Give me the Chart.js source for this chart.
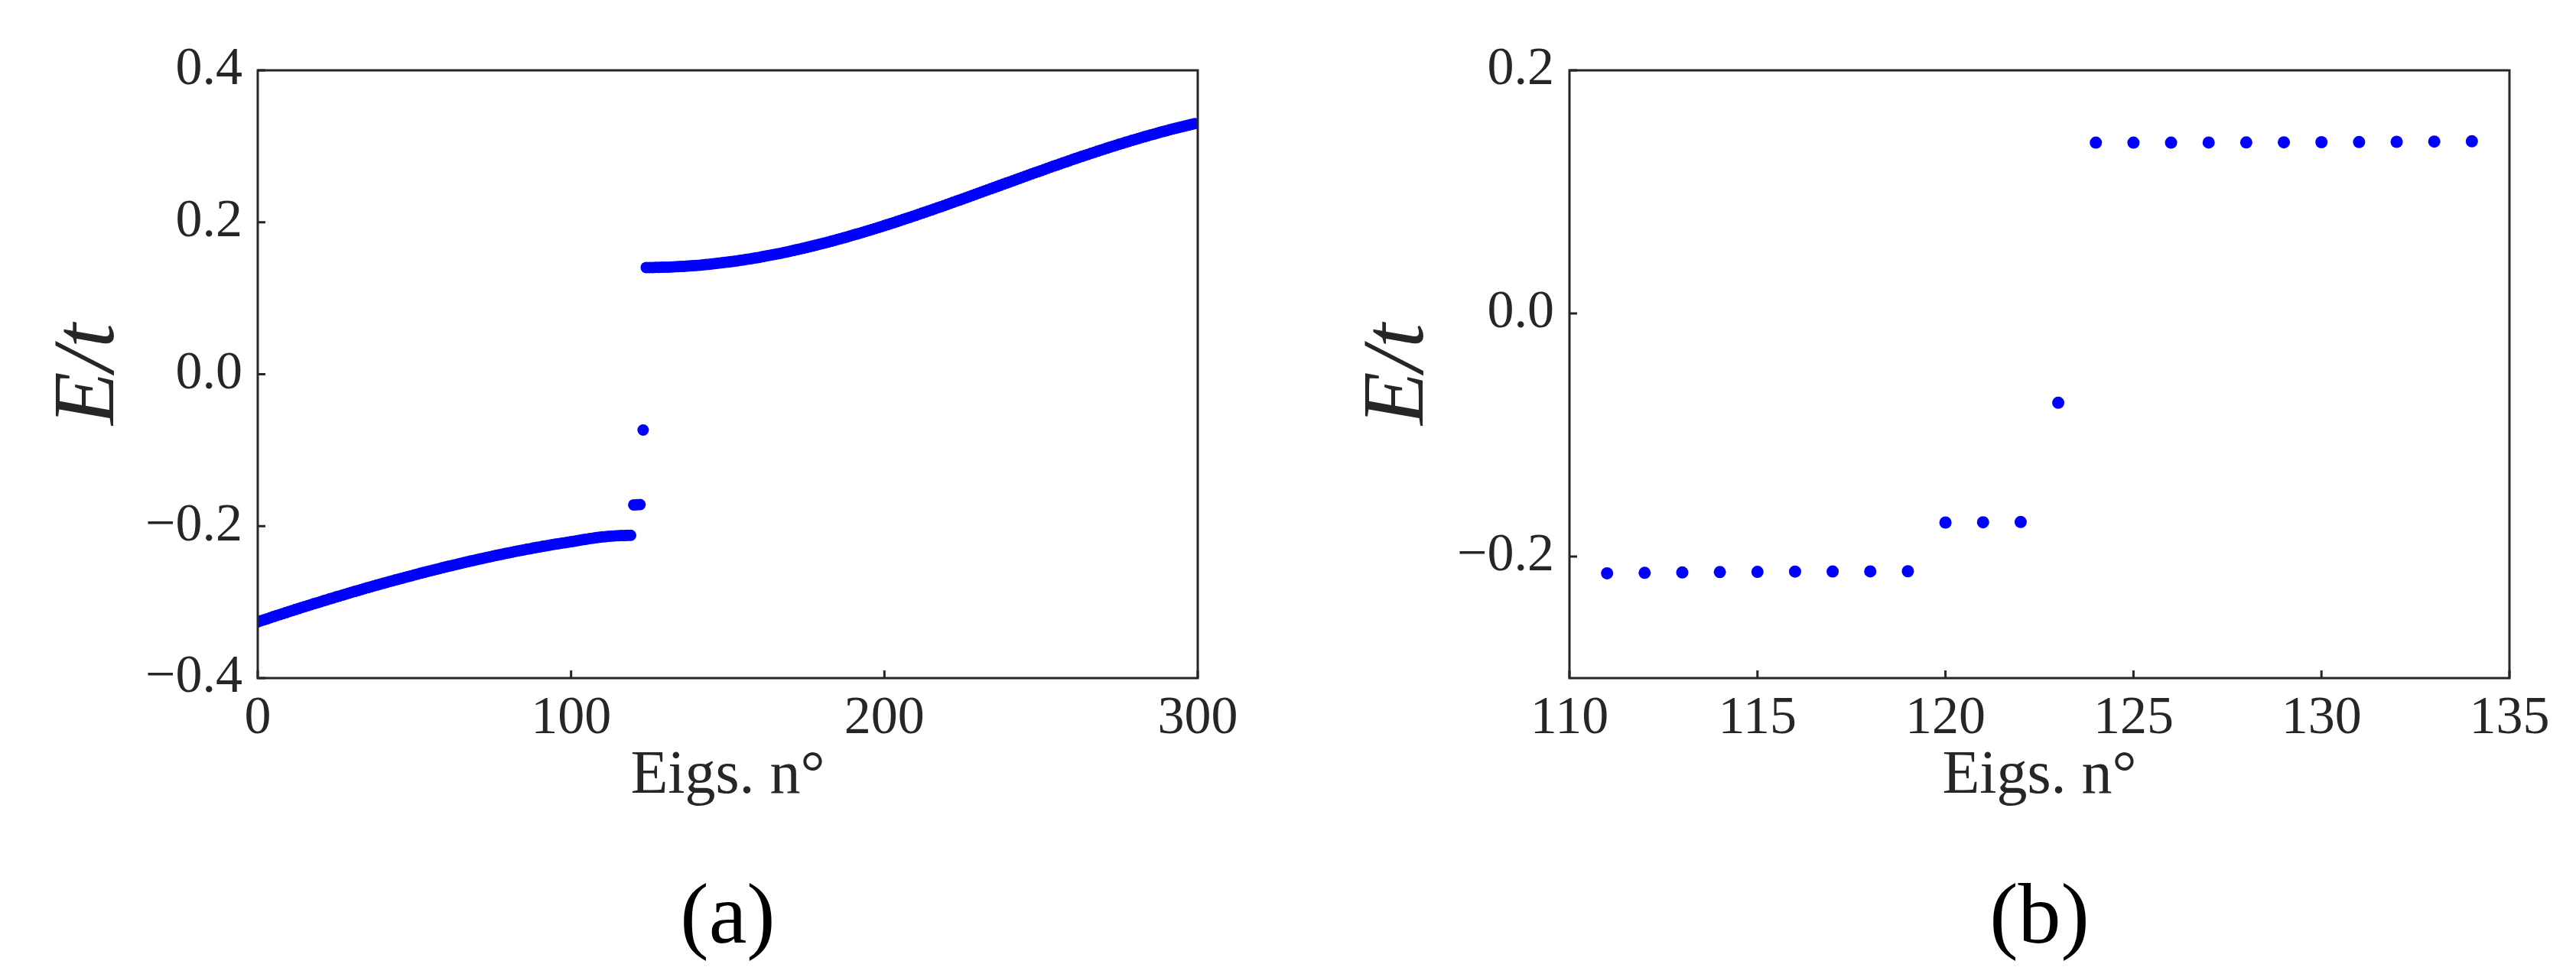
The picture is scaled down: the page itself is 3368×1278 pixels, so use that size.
<!DOCTYPE html>
<html>
<head>
<meta charset="utf-8">
<script src="https://cdn.jsdelivr.net/npm/chart.js@4.4.1/dist/chart.umd.min.js"></script>
<style>
  html, body { margin: 0; padding: 0; background: #fff; }
  #wrap { position: relative; width: 3368px; height: 1278px; }
  #chartA { position: absolute; left: 0; top: 0; }
  #chartB { position: absolute; left: 1700px; top: 0; }
  .warm { position: absolute; left: -9999px; top: 0; font-family: "Liberation Serif"; }
</style>
</head>
<body>
<div class="warm">0.2 <i>E/t</i> Eigs. n°</div>
<div id="wrap">
  <canvas id="chartA" width="1700" height="1278"></canvas>
  <canvas id="chartB" width="1668" height="1278"></canvas>
</div>
<script>
// eigenvalues E/t (index n = 0 ... 299)
const lowerBand = [
  -0.3260,-0.3246,-0.3233,-0.3219,-0.3205,-0.3191,-0.3178,-0.3165,-0.3151,-0.3138,
  -0.3125,-0.3111,-0.3098,-0.3085,-0.3072,-0.3059,-0.3046,-0.3033,-0.3020,-0.3008,
  -0.2995,-0.2982,-0.2970,-0.2957,-0.2945,-0.2932,-0.2920,-0.2908,-0.2895,-0.2883,
  -0.2871,-0.2859,-0.2847,-0.2835,-0.2823,-0.2811,-0.2800,-0.2788,-0.2776,-0.2765,
  -0.2753,-0.2742,-0.2730,-0.2719,-0.2708,-0.2697,-0.2686,-0.2674,-0.2664,-0.2653,
  -0.2642,-0.2631,-0.2620,-0.2610,-0.2599,-0.2588,-0.2578,-0.2568,-0.2558,-0.2547,
  -0.2537,-0.2527,-0.2517,-0.2507,-0.2498,-0.2488,-0.2478,-0.2469,-0.2459,-0.2450,
  -0.2440,-0.2431,-0.2422,-0.2413,-0.2404,-0.2395,-0.2386,-0.2378,-0.2369,-0.2360,
  -0.2352,-0.2344,-0.2335,-0.2327,-0.2319,-0.2311,-0.2303,-0.2296,-0.2288,-0.2280,
  -0.2273,-0.2265,-0.2258,-0.2251,-0.2244,-0.2237,-0.2231,-0.2224,-0.2218,-0.2211,
  -0.2205,-0.2198,-0.2191,-0.2184,-0.2177,-0.2170,-0.2164,-0.2158,-0.2152,-0.2147,
  -0.2142,-0.2138,-0.2134,-0.2131,-0.2128,-0.2126,-0.2124,-0.2123,-0.2122,-0.2121
];
// n = 120, 121, 122, 123
const gapStates = [-0.1720, -0.1718, -0.1716, -0.0735];
// n = 124 ... 299
const upperBand = [
  0.1405,0.1405,0.1405,0.1406,0.1407,0.1408,0.1409,0.1410,0.1412,0.1414,
  0.1416,0.1418,0.1420,0.1423,0.1426,0.1429,0.1432,0.1435,0.1439,0.1443,
  0.1447,0.1451,0.1456,0.1461,0.1466,0.1471,0.1476,0.1481,0.1487,0.1492,
  0.1499,0.1505,0.1512,0.1518,0.1525,0.1531,0.1538,0.1546,0.1554,0.1562,
  0.1570,0.1577,0.1585,0.1593,0.1602,0.1611,0.1620,0.1629,0.1639,0.1648,
  0.1657,0.1667,0.1677,0.1687,0.1697,0.1708,0.1718,0.1728,0.1739,0.1750,
  0.1762,0.1773,0.1784,0.1795,0.1807,0.1819,0.1831,0.1843,0.1855,0.1867,
  0.1879,0.1892,0.1904,0.1917,0.1930,0.1943,0.1956,0.1969,0.1982,0.1996,
  0.2009,0.2023,0.2037,0.2050,0.2064,0.2078,0.2091,0.2106,0.2120,0.2134,
  0.2148,0.2162,0.2177,0.2191,0.2205,0.2220,0.2235,0.2249,0.2264,0.2279,
  0.2293,0.2308,0.2323,0.2338,0.2353,0.2367,0.2382,0.2397,0.2412,0.2427,
  0.2442,0.2457,0.2472,0.2487,0.2502,0.2517,0.2532,0.2547,0.2562,0.2577,
  0.2592,0.2606,0.2621,0.2636,0.2651,0.2665,0.2680,0.2695,0.2710,0.2724,
  0.2739,0.2753,0.2767,0.2782,0.2796,0.2811,0.2825,0.2839,0.2853,0.2867,
  0.2881,0.2894,0.2908,0.2922,0.2935,0.2949,0.2962,0.2975,0.2989,0.3002,
  0.3015,0.3028,0.3040,0.3053,0.3065,0.3078,0.3090,0.3103,0.3115,0.3126,
  0.3138,0.3150,0.3161,0.3173,0.3185,0.3196,0.3206,0.3217,0.3227,0.3238,
  0.3249,0.3259,0.3269,0.3279,0.3289,0.3298
];

// tick labels
const xTicksA = [0, 100, 200, 300];
const yTicksA = [-0.4, -0.2, 0.0, 0.2, 0.4];
const xTicksB = [110, 115, 120, 125, 130, 135];
const yTicksB = [-0.2, 0.0, 0.2];
// zoomed window of panel (b)
const zoomFirst = 111;
const zoomLast = 134;

const serif = '"Liberation Serif", "Times New Roman", serif';
const ink = '#262626';

const eigs = lowerBand.concat(gapStates, upperBand).map((e, n) => ({ x: n, y: e }));
const zoomEigs = eigs.filter(p => p.x >= zoomFirst && p.x <= zoomLast);

function fmtTick(v) {
    if (Math.abs(v) < 1e-9) return '0.0';
    return (v < 0 ? '\u2212' : '') + Math.abs(v).toFixed(1);
}

// matplotlib-like frame with inward ticks
const frameAndTicks = {
    id: 'frameAndTicks',
    afterDraw(chart) {
        const { ctx, chartArea: a } = chart;
        const x = chart.scales.x, y = chart.scales.y;
        ctx.save();
        ctx.strokeStyle = ink;
        ctx.lineWidth = 3;
        ctx.beginPath();
        x.ticks.forEach(t => {
            const px = x.getPixelForValue(t.value);
            ctx.moveTo(px, a.bottom);
            ctx.lineTo(px, a.bottom - 10);
        });
        y.ticks.forEach(t => {
            const py = y.getPixelForValue(t.value);
            ctx.moveTo(a.left, py);
            ctx.lineTo(a.left + 10, py);
        });
        ctx.stroke();
        ctx.strokeRect(a.left, a.top, a.right - a.left, a.bottom - a.top);
        ctx.restore();
    }
};

function makePanel(id, points, cfg) {
    return new Chart(document.getElementById(id), {
        type: 'scatter',
        data: {
            datasets: [{
                data: points,
                backgroundColor: '#0000ff',
                borderWidth: 0,
                pointRadius: cfg.radius,
                pointHoverRadius: cfg.radius,
                clip: 0
            }]
        },
        options: {
            responsive: false,
            animation: false,
            events: [],
            layout: { padding: { left: 0, top: 92, right: cfg.rightPad, bottom: 18 } },
            plugins: {
                legend: { display: false },
                tooltip: { enabled: false },
                title: {
                    display: true,
                    text: cfg.label,
                    position: 'bottom',
                    fullSize: false,
                    color: '#000',
                    padding: 0,
                    font: { family: serif, size: 112, weight: 'normal', lineHeight: 1 }
                }
            },
            scales: {
                x: {
                    type: 'linear',
                    min: cfg.xMin,
                    max: cfg.xMax,
                    grid: { display: false },
                    border: { display: false },
                    afterBuildTicks: s => { s.ticks = cfg.xTicks.map(v => ({ value: v })); },
                    afterFit: s => { s.height = 261; },
                    ticks: {
                        color: ink,
                        padding: 4,
                        maxRotation: 0,
                        autoSkip: false,
                        font: { family: serif, size: 70 },
                        callback: v => String(v)
                    },
                    title: {
                        display: true,
                        text: 'Eigs. n\u00b0',
                        color: ink,
                        font: { family: serif, size: 80, lineHeight: 1 },
                        padding: { top: 0, bottom: 92 }
                    }
                },
                y: {
                    type: 'linear',
                    min: cfg.yMin,
                    max: cfg.yMax,
                    grid: { display: false },
                    border: { display: false },
                    afterBuildTicks: s => { s.ticks = cfg.yTicks.map(v => ({ value: v })); },
                    afterFit: s => { s.width = cfg.yWidth; },
                    ticks: {
                        color: ink,
                        padding: 12,
                        font: { family: serif, size: 70 },
                        callback: v => fmtTick(v)
                    },
                    title: {
                        display: true,
                        text: 'E/t',
                        color: ink,
                        font: { family: serif, size: 114, style: 'italic', lineHeight: 1 },
                        padding: { top: cfg.titleOffset, bottom: 0 }
                    }
                }
            }
        },
        plugins: [frameAndTicks]
    });
}

makePanel('chartA', eigs, {
    label: '(a)', radius: 7.5,
    xMin: 0, xMax: 300, yMin: -0.4, yMax: 0.4,
    xTicks: xTicksA, yTicks: yTicksA,
    yWidth: 337, rightPad: 134, titleOffset: 61
});

makePanel('chartB', zoomEigs, {
    label: '(b)', radius: 8,
    xMin: 110, xMax: 135, yMin: -0.3, yMax: 0.2,
    xTicks: xTicksB, yTicks: yTicksB,
    yWidth: 352, rightPad: 87, titleOffset: 73
});
</script>
</body>
</html>
